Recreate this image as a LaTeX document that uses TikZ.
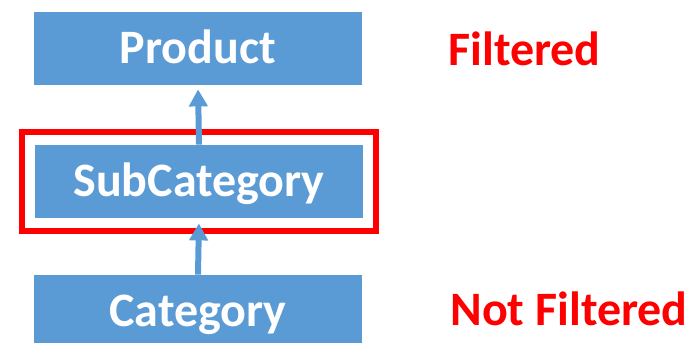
\documentclass[tikz,border=0pt]{standalone}
\usepackage{fontspec}
\setmainfont{Carlito}
\usetikzlibrary{arrows.meta,fit}
\definecolor{boxblue}{HTML}{5B9BD5}
\begin{document}
\begin{tikzpicture}[>={Triangle[width=9pt,length=8.5pt]}, x=.5pt, y=-.5pt,
  box/.style={fill=boxblue, text=white, font=\bfseries\fontsize{24}{28}\selectfont,
    minimum width=164pt, minimum height=36.5pt, inner sep=0pt, text height=15.4pt, text depth=0pt},
  link/.style={->, draw=boxblue, line width=3pt},
  tag/.style={text=red, font=\bfseries\fontsize{24}{28}\selectfont, anchor=base west, inner sep=0pt}]
\path[use as bounding box, clip] (0,0) rectangle (689,342);
\node[box](prod) at (198,48.5){Product};
\node[box](sub) at (199,181.5){SubCategory};
\node[box](cat) at (198,311.5){Category};
\node[draw=red, line width=3pt, fit=(sub), inner sep=6.5pt](frame){};
\draw[link, shorten >=2pt](sub.north)--(prod.south);
\draw[link, shorten >=2.5pt](cat.north)--(sub.south);
\node[tag](filt) at (448,66){Filtered};
\node[tag](notfilt) at (450,325){Not Filtered};
\end{tikzpicture}
\end{document}
